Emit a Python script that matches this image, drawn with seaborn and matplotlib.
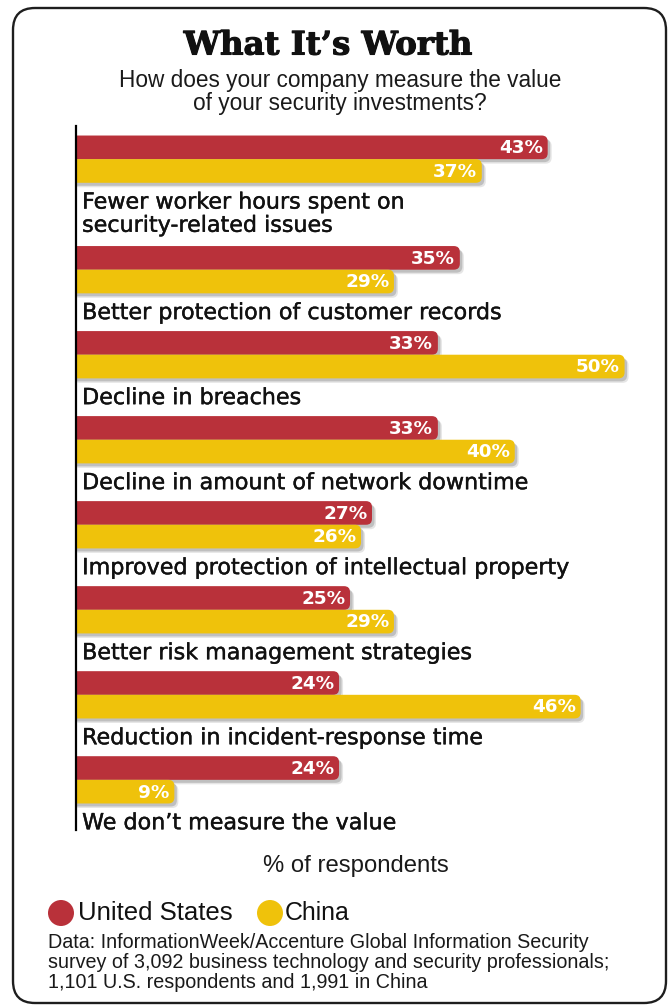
import numpy as np
import pandas as pd
import matplotlib
matplotlib.use("Agg")
import matplotlib.pyplot as plt
import matplotlib.transforms as mtransforms
import matplotlib.patheffects as pe
from matplotlib.patches import FancyBboxPatch, Circle
from matplotlib import font_manager
import seaborn as sns

# ---------------- data ----------------
categories = [
    "Fewer worker hours spent on\nsecurity-related issues",
    "Better protection of customer records",
    "Decline in breaches",
    "Decline in amount of network downtime",
    "Improved protection of intellectual property",
    "Better risk management strategies",
    "Reduction in incident-response time",
    "We don\u2019t measure the value",
]
us_values = [43, 35, 33, 33, 27, 25, 24, 24]
china_values = [37, 29, 50, 40, 26, 29, 46, 9]
series = ["United States", "China"]
colors = ["#B9313A", "#EFC20B"]

title = "What It\u2019s Worth"
subtitle = "How does your company measure the value\nof your security investments?"
xlabel = "% of respondents"
footer = ("Data: InformationWeek/Accenture Global Information Security\n"
          "survey of 3,092 business technology and security professionals;\n"
          "1,101 U.S. respondents and 1,991 in China")

# ---------------- layout ----------------
W, H, DPI = 668, 1007, 100
sns.set_theme(style="white")
plt.rcParams["font.family"] = ["DejaVu Sans"]

installed = {f.name for f in font_manager.fontManager.ttflist}
narrow = "Liberation Sans Narrow" if "Liberation Sans Narrow" in installed else "Liberation Sans"

fig = plt.figure(figsize=(W / DPI, H / DPI), dpi=DPI)
fig.patch.set_facecolor("white")

# extra room after the first (two-line) category label
n = len(categories)
pos = np.arange(n) + np.where(np.arange(n) > 0, 0.3, 0.0)

ax_left_px, ax_right_px = 75.5, 657.5
ax_top_px, ax_bot_px = 126, 830
ax = fig.add_axes([ax_left_px / W, 1 - ax_bot_px / H,
                   (ax_right_px - ax_left_px) / W, (ax_bot_px - ax_top_px) / H])

df = pd.DataFrame({
    "pos": np.concatenate([pos, pos]),
    "value": us_values + china_values,
    "country": [series[0]] * n + [series[1]] * n,
})

bar_width = 0.556
sns.barplot(data=df, x="value", y="pos", hue="country", hue_order=series,
            orient="h", native_scale=True, palette=colors, width=bar_width,
            dodge=True, saturation=1, legend=False, ax=ax)

xmax = 53
ymin, ymax = -0.39, pos[-1] + 0.59
ax.set_xlim(0, xmax)
ax.set_ylim(ymax, ymin)

# pixel scales (for rounding corners)
px_per_x = (ax_right_px - ax_left_px) / xmax
px_per_y = (ax_bot_px - ax_top_px) / (ymax - ymin)
aspect = px_per_x / px_per_y
rad = 6 / px_per_x

shadow_tr = ax.transData + mtransforms.ScaledTranslation(2.5 / DPI, -3 / DPI, fig.dpi_scale_trans)
shadow_tr2 = ax.transData + mtransforms.ScaledTranslation(4 / DPI, -4.5 / DPI, fig.dpi_scale_trans)

rects = list(ax.patches)
for r in rects:
    x0, y0, w, h = r.get_x(), r.get_y(), r.get_width(), r.get_height()
    fc = r.get_facecolor()
    r.remove()
    for tr, col, a, z in [(shadow_tr2, "#9a9a9a", 0.25, 1.4),
                          (shadow_tr, "#7a7a7a", 0.35, 1.5),
                          (ax.transData, fc, 1.0, 2)]:
        p = FancyBboxPatch((x0 - rad, y0), w + rad, h,
                           boxstyle=f"round,pad=0,rounding_size={rad}",
                           mutation_aspect=aspect, facecolor=col, edgecolor="none",
                           alpha=a, zorder=z, transform=tr, clip_on=True)
        ax.add_patch(p)
    ax.text(x0 + w - 0.42, y0 + h / 2 + 0.01, f"{int(round(w))}%", ha="right", va="center",
            color="white", fontsize=13.2, fontweight="bold", zorder=3,
            family="DejaVu Sans")

# category labels beneath each pair of bars
for p_, lab in zip(pos, categories):
    ax.text(0.6, p_ + bar_width / 2 + 0.115, lab, ha="left", va="top",
            fontsize=16, color="#111111", linespacing=1.2, zorder=3,
            family="DejaVu Sans",
            path_effects=[pe.withStroke(linewidth=0.3, foreground="#111111")])

ax.set_xticks([])
ax.set_yticks([])
ax.set_xlabel("")
ax.set_ylabel("")
for s in ["top", "right", "bottom"]:
    ax.spines[s].set_visible(False)
ax.spines["left"].set_color("black")
ax.spines["left"].set_linewidth(1.6)
ax.set_facecolor("none")

# ---------------- frame and text ----------------
ident = mtransforms.IdentityTransform()
frame = FancyBboxPatch((13, H - 1003), 653, 995,
                       boxstyle="round,pad=0,rounding_size=22",
                       facecolor="none", edgecolor="#1e1e1e", linewidth=1.7,
                       transform=ident, zorder=0)
fig.add_artist(frame)


def fx(x):
    return x / W


def fy(y):
    return 1 - y / H


renderer = fig.canvas.get_renderer()


def fit(t, target_px):
    bb = t.get_window_extent(renderer)
    t.set_fontsize(t.get_fontsize() * target_px / bb.width)
    return t


fit(fig.text(fx(328), fy(46), title, ha="center", va="center",
             family="DejaVu Serif", fontweight="bold", fontsize=24, color="#111111",
             path_effects=[pe.withStroke(linewidth=0.8, foreground="#111111")]), 289)
fit(fig.text(fx(340), fy(92), subtitle, ha="center", va="center",
             family="Liberation Sans", fontsize=15.5, linespacing=1.02, color="#1a1a1a"), 440)
fit(fig.text(fx(355.5), fy(866), xlabel, ha="center", va="center",
             family="Liberation Sans", fontsize=15.5, color="#1a1a1a"), 185)

# legend
for cx, col in [(61, colors[0]), (270, colors[1])]:
    fig.add_artist(Circle((cx, H - 913), 13, transform=ident,
                          facecolor=col, edgecolor="none"))
fit(fig.text(fx(78), fy(913), series[0], ha="left", va="center",
             family="Liberation Sans", fontsize=18, color="#111111"), 154)
fit(fig.text(fx(285), fy(913), series[1], ha="left", va="center",
             family="Liberation Sans", fontsize=18, color="#111111"), 65)

fit(fig.text(fx(48), fy(933), footer, ha="left", va="top",
             family=narrow, fontsize=12.8, linespacing=1.08, color="#1a1a1a"), 557)

fig.savefig("out.png", dpi=DPI, facecolor="white")
